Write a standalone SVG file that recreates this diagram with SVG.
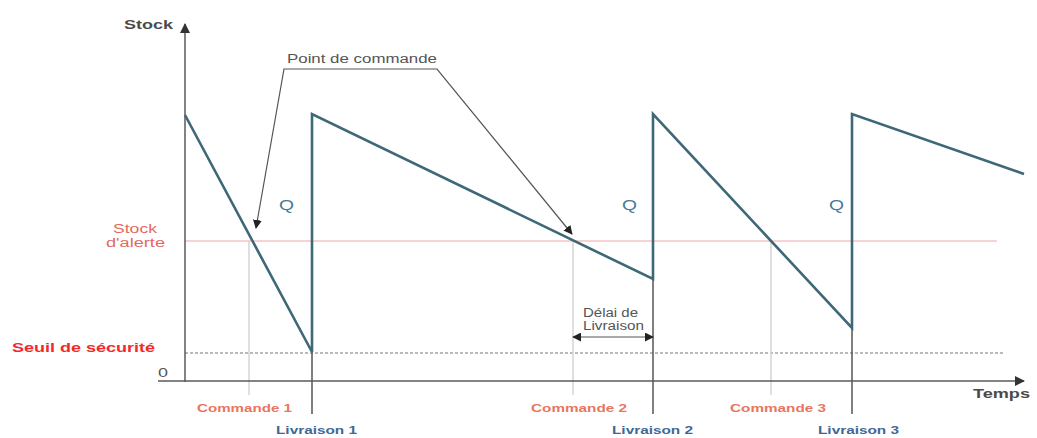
<svg xmlns="http://www.w3.org/2000/svg" width="1037" height="438" viewBox="0 0 1037 438">
<style>
text{font-family:"Liberation Sans",Arial,sans-serif}
.ax{stroke:#5a5a5a;stroke-width:1.5;fill:none}
.saw{stroke:#3e6878;stroke-width:2.6;fill:none;stroke-linejoin:miter}
.vl{stroke:#d4d4d4;stroke-width:1.5}
.lead{stroke:#555;stroke-width:1.2;fill:none}
.lbl{font-weight:bold;font-size:13px;fill:#4a4a4a}
.red{font-size:12px;fill:#e26a5e}
.cmd{font-weight:bold;font-size:11px;fill:#e8765f}
.liv{font-weight:bold;font-size:11px;fill:#3d6898}
.q{font-size:15px;fill:#4a7a96}
.dl{font-size:12px;fill:#555}
</style>
<defs>
<marker id="ah" viewBox="0 0 10 10" refX="9" refY="5" markerWidth="9" markerHeight="9" markerUnits="userSpaceOnUse" orient="auto-start-reverse">
<path d="M0,0 L10,5 L0,10 z" fill="#222"/>
</marker>
<marker id="axh" viewBox="0 0 10 10" refX="9" refY="5" markerWidth="10" markerHeight="10" markerUnits="userSpaceOnUse" orient="auto">
<path d="M0,0 L10,5 L0,10 z" fill="#333"/>
</marker>
</defs>
<rect width="1037" height="438" fill="#fff"/>
<g id="guides">
<line x1="185" y1="241" x2="997" y2="241" stroke="#f0a8a8" stroke-width="1.2"/>
<line x1="185" y1="353" x2="1005" y2="353" stroke="#777" stroke-width="1.1" stroke-dasharray="3,2"/>
<line class="vl" x1="249" y1="241" x2="249" y2="395"/>
<line class="vl" x1="573" y1="241" x2="573" y2="395"/>
<line class="vl" x1="771" y1="241" x2="771" y2="395"/>
<line x1="312" y1="352" x2="312" y2="414" stroke="#555" stroke-width="1.5"/>
<line x1="653" y1="279" x2="653" y2="414" stroke="#555" stroke-width="1.5"/>
<line x1="852" y1="328" x2="852" y2="414" stroke="#555" stroke-width="1.5"/>
</g>
<g id="axes">
<line class="ax" x1="185" y1="382" x2="185" y2="24" marker-end="url(#axh)"/>
<line class="ax" x1="158" y1="381" x2="1024" y2="381" marker-end="url(#axh)"/>
</g>
<g id="stock-curve">
<polyline class="saw" points="185,115 312,352 312,114 653,279 653,114 852,328 852,114 1024,174"/>
</g>
<g id="connectors">
<polyline class="lead" points="256,228 284,69 437,69 572,234" marker-start="url(#ah)" marker-end="url(#ah)"/>
<line class="lead" x1="573" y1="337" x2="653" y2="337" marker-start="url(#ah)" marker-end="url(#ah)"/>
</g>
<g id="labels">
<text class="lbl" x="124" y="29" textLength="49" lengthAdjust="spacingAndGlyphs">Stock</text>
<text class="dl" x="287" y="63" textLength="150" lengthAdjust="spacingAndGlyphs" fill="#444">Point de commande</text>
<text class="q" x="279" y="210" textLength="15" lengthAdjust="spacingAndGlyphs">Q</text>
<text class="q" x="622" y="210" textLength="15" lengthAdjust="spacingAndGlyphs">Q</text>
<text class="q" x="829" y="210" textLength="15" lengthAdjust="spacingAndGlyphs">Q</text>
<text class="red" x="113" y="233" textLength="44" lengthAdjust="spacingAndGlyphs">Stock</text>
<text class="red" x="106" y="247" textLength="59" lengthAdjust="spacingAndGlyphs">d'alerte</text>
<text x="12" y="352" font-family="'DejaVu Sans',sans-serif" font-weight="bold" font-size="12" fill="#f22a2a" textLength="143" lengthAdjust="spacingAndGlyphs">Seuil de sécurité</text>
<text x="158" y="377" font-size="12" fill="#555" textLength="10" lengthAdjust="spacingAndGlyphs">0</text>
<text class="dl" x="583" y="317" textLength="55" lengthAdjust="spacingAndGlyphs">Délai de</text>
<text class="dl" x="583" y="330" textLength="61" lengthAdjust="spacingAndGlyphs">Livraison</text>
<text class="lbl" x="973" y="398" textLength="57" lengthAdjust="spacingAndGlyphs">Temps</text>
<text class="cmd" x="197" y="412" textLength="95" lengthAdjust="spacingAndGlyphs">Commande 1</text>
<text class="cmd" x="531" y="412" textLength="96" lengthAdjust="spacingAndGlyphs">Commande 2</text>
<text class="cmd" x="730" y="412" textLength="96" lengthAdjust="spacingAndGlyphs">Commande 3</text>
<text class="liv" x="276" y="434" textLength="81" lengthAdjust="spacingAndGlyphs">Livraison 1</text>
<text class="liv" x="612" y="434" textLength="81" lengthAdjust="spacingAndGlyphs">Livraison 2</text>
<text class="liv" x="818" y="434" textLength="81" lengthAdjust="spacingAndGlyphs">Livraison 3</text>
</g>
</svg>
